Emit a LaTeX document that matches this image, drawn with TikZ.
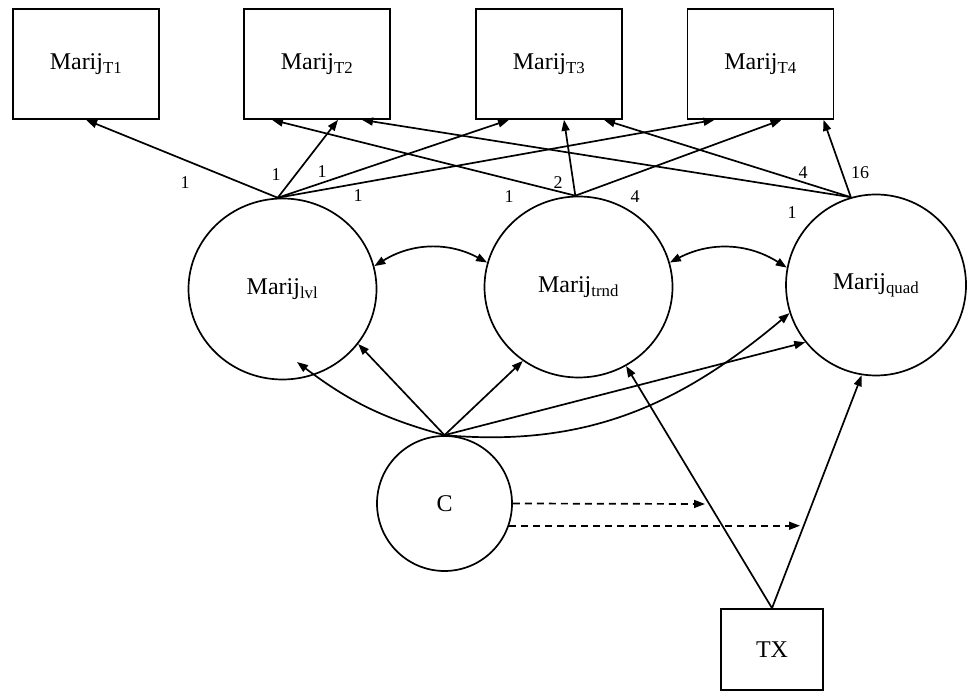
\documentclass[tikz,border=0pt]{standalone}
\usepackage{fontspec}
\setmainfont{Liberation Serif}
\usetikzlibrary{arrows.meta, shapes.geometric}

\begin{document}
\begin{tikzpicture}[
        x=1pt, y=1pt,
        obs/.style={rectangle, draw=black, line width=1.7pt, minimum width=146pt, minimum height=110pt, font=\fontsize{24}{28}\selectfont},
        latent/.style={ellipse, draw=black, line width=1.7pt, inner sep=0pt, minimum width=188pt, minimum height=181pt, font=\fontsize{24}{28}\selectfont},
        cov/.style={circle, draw=black, line width=1.7pt, inner sep=0pt, minimum size=135pt, font=\fontsize{24}{28}\selectfont},
        grp/.style={rectangle, draw=black, line width=1.7pt, minimum width=102pt, minimum height=81pt, font=\fontsize{24}{28}\selectfont},
        lab/.style={inner sep=1pt, font=\fontsize{18}{20}\selectfont},
        path/.style={line width=1.7pt, -{Triangle[length=11pt, width=8pt]}},
        both/.style={line width=1.7pt, {Triangle[length=11pt, width=8pt]}-{Triangle[length=11pt, width=8pt]}},
        moder/.style={line width=1.7pt, dash pattern=on 7pt off 5pt, -{Triangle[length=11pt, width=8pt]}}
    ]
        \useasboundingbox (0,0) rectangle (968,698);

        % observed measures
        \node[obs] (T1) at (86,634) {Marij\textsubscript{T1}};
        \node[obs] (T2) at (317,634) {Marij\textsubscript{T2}};
        \node[obs] (T3) at (549,634) {Marij\textsubscript{T3}};
        \node[obs] (T4) at (760.5,634) {Marij\textsubscript{T4}};

        % growth factors
        \node[latent] (lvl) at (282.5,409) {Marij\textsubscript{lvl}};
        \node[latent] (trnd) at (578.5,411) {Marij\textsubscript{trnd}};
        \node[latent, minimum width=180pt] (quad) at (876,413) {Marij\textsubscript{quad}};

        \node[cov] (C) at (444.5,194.5) {C};
        \node[grp] (TX) at (772,48.5) {TX};

        \coordinate (lvlin) at (297,336);
        \coordinate (tipA) at (705,194);
        \coordinate (tipB) at (800,172);

        % loadings
        \draw[path] (lvl.93) -- (T1.south);
        \draw[path] (lvl.93) -- ([xshift=21pt]T2.south);
        \draw[path] (lvl.93) -- ([xshift=-40pt]T3.south);
        \draw[path] (lvl.93) -- ([xshift=-46pt]T4.south);
        \draw[path] (trnd.92) -- ([xshift=-45pt]T2.south);
        \draw[path] (trnd.92) -- ([xshift=15pt]T3.south);
        \draw[path] (trnd.92) -- ([xshift=21pt]T4.south);
        \draw[path] (quad.106) -- ([xshift=45pt]T2.south);
        \draw[path] (quad.106) -- ([xshift=55pt]T3.south);
        \draw[path] (quad.106) -- ([xshift=63pt]T4.south);

        \node[lab] (w11) at (185,515) {1};
        \node[lab] (w12) at (276,523) {1};
        \node[lab] (w13) at (322,526) {1};
        \node[lab] (w14) at (358,502) {1};
        \node[lab] (w21) at (509,501) {1};
        \node[lab] (w22) at (558,515) {2};
        \node[lab] (w23) at (635,501) {4};
        \node[lab] (w31) at (792,485) {1};
        \node[lab] (w32) at (803,525) {4};
        \node[lab] (w33) at (860,525) {16};

        % covariances
        \draw[both] (lvl.14) to[bend left=30] (trnd.165);
        \draw[both] (trnd.15) to[bend left=30] (quad.169);

        % covariate effects
        \draw[path] (C.north) to[out=165, in=-37] (lvlin);
        \draw[path] (C.north) -- (lvl.-36);
        \draw[path] (C.north) -- (trnd.233);
        \draw[path] (C.north) -- (quad.219);
        \draw[path] (C.north) to[out=-5, in=220] (quad.198);

        % treatment effects
        \draw[path] (TX.north) -- (trnd);
        \draw[path] (TX.north) -- (quad.261);

        \draw[moder] (C.east) -- (tipA);
        \draw[moder] (C.-19) -- (C.-19 -| tipB);
    \end{tikzpicture}
\end{document}
